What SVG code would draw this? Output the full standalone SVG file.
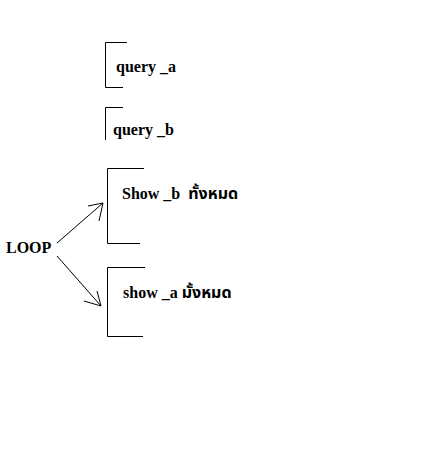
<svg xmlns="http://www.w3.org/2000/svg" width="441" height="463" viewBox="0 0 441 463">
<style>
.b{fill:none;stroke:#000;stroke-width:1}
.t{font-family:"Liberation Serif","Noto Sans Thai","DejaVu Serif",serif;font-weight:bold;font-size:16px;fill:#000;white-space:pre}
.th{font-size:16px}
</style>
<rect width="441" height="463" fill="#fff"/>
<g id="query_a">
<path class="b" d="M127,42.5H105.5V87.5H123"/>
<text class="t" x="116" y="72">query _a</text>
</g>
<g id="query_b">
<path class="b" d="M123,107.5H105.5V140"/>
<text class="t" x="113" y="135">query _b</text>
</g>
<g id="show_b">
<path class="b" d="M144,168.5H107.5V243.5H140"/>
<text class="t" x="122" y="199">Show _b  <tspan class="th">ทั้งหมด</tspan></text>
</g>
<g id="show_a">
<path class="b" d="M145,267.5H107.5V336.5H143"/>
<text class="t" x="123" y="298">show _a <tspan class="th">มั้งหมด</tspan></text>
</g>
<g id="loop">
<text class="t" x="6" y="253">LOOP</text>
</g>
<g id="connectors">
<path class="b" d="M57,243L103,203M88,206L103,203L99,221"/>
<path class="b" d="M57,256L101,306M84,301L101,306L97,291"/>
</g>
</svg>
